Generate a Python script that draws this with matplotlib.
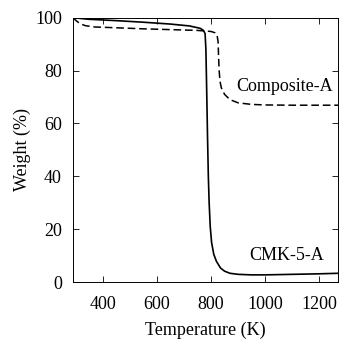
import matplotlib
matplotlib.use("Agg")
import matplotlib.pyplot as plt

plt.rcParams['font.family'] = ['Liberation Serif', 'DejaVu Serif']

cmk_T = [290, 350, 450, 550, 650, 720, 760, 772, 778, 781, 784, 787, 790, 793, 797, 802, 810, 820, 835, 850, 870, 900, 950, 1000, 1100, 1200, 1270]
cmk_W = [100, 99.4, 98.9, 98.3, 97.6, 96.9, 96.0, 95.2, 94, 88, 72, 55, 40, 30, 21, 15, 10.5, 7.8, 5.3, 4.1, 3.3, 2.9, 2.7, 2.7, 2.9, 3.1, 3.3]

comp_T = [290, 300, 315, 335, 370, 450, 550, 650, 750, 800, 815, 822, 826, 828, 830, 833, 838, 850, 870, 900, 950, 1000, 1100, 1270]
comp_W = [100, 99, 97.8, 97, 96.5, 96.2, 95.8, 95.5, 95.2, 94.8, 94.3, 93.5, 91, 85, 80, 76, 73.5, 71, 69, 67.8, 67.2, 67, 66.9, 66.9]

xticks = [400, 600, 800, 1000, 1200]
yticks = [0, 20, 40, 60, 80, 100]

fig = plt.figure(figsize=(3.4, 3.41), dpi=100)
ax = fig.add_axes([0.215, 0.173, 0.778, 0.775])
ax.plot(cmk_T, cmk_W, color='black', lw=1.2, ls='-')
ax.plot(comp_T, comp_W, color='black', lw=1.1, ls=(0, (5, 2.5)))
ax.set_xlim(290, 1268)
ax.set_ylim(0, 100)
ax.set_xticks(xticks)
ax.set_yticks(yticks)
ax.tick_params(direction='in', top=True, right=True, labelsize=13, length=4, width=0.6)
ax.tick_params(axis='x', pad=10)
ax.tick_params(axis='y', pad=8)
for s in ax.spines.values():
    s.set_linewidth(0.7)
ax.set_xlabel('Temperature (K)', fontsize=13, labelpad=6)
ax.set_ylabel('Weight (%)', fontsize=13, labelpad=3)
ax.text(1072, 74, 'Composite-A', fontsize=13, ha='center', va='center')
ax.text(1080, 10, 'CMK-5-A', fontsize=13, ha='center', va='center')
fig.savefig('out.png', dpi=100)
